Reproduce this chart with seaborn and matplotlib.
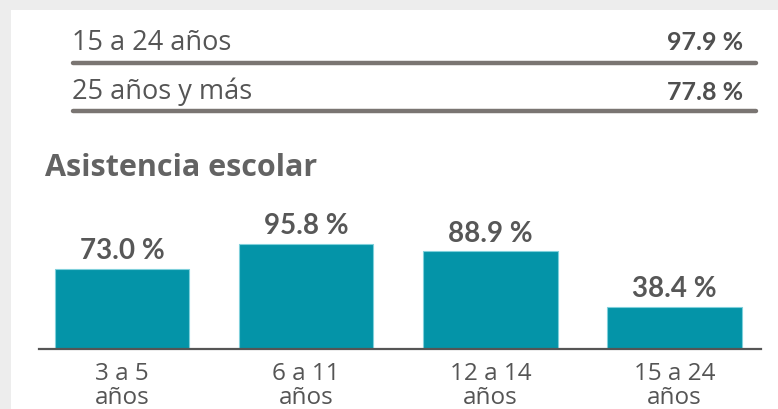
import matplotlib
matplotlib.use("Agg")
import matplotlib.pyplot as plt
from matplotlib.patches import Rectangle
from matplotlib.lines import Line2D
import seaborn as sns
import pandas as pd

# ---- data ----
top_labels = ["15 a 24 años", "25 años y más"]
top_values = [97.9, 77.8]

title = "Asistencia escolar"
bar_categories = ["3 a 5\naños", "6 a 11\naños", "12 a 14\naños", "15 a 24\naños"]
bar_values = [73.0, 95.8, 88.9, 38.4]

sns.set_theme(style="white")
plt.rcParams['font.family'] = ['Lato', 'DejaVu Sans']

W, H = 778, 410
fig = plt.figure(figsize=(W / 100, H / 100), dpi=100)
fig.patch.set_facecolor("white")

def fx(px):
    return px / W

def fy(py):
    return 1 - py / H

# light gray frame (top band + left strip)
fig.patches.append(Rectangle((0, fy(11)), 1, 11 / H, transform=fig.transFigure,
                             facecolor="#ededed", edgecolor="none", zorder=0))
fig.patches.append(Rectangle((0, 0), fx(11), 1, transform=fig.transFigure,
                             facecolor="#ededed", edgecolor="none", zorder=0))

text_gray = "#555555"
line_gray = "#7a7572"
light_font = ["Open Sans", "DejaVu Sans"]

# top rows
row_y = [43, 92]
line_y = [64, 112]
for lab, val, ty, ly in zip(top_labels, top_values, row_y, line_y):
    fig.text(fx(72), fy(ty), lab, fontsize=19.5, color=text_gray, ha="left", va="center",
             family=light_font)
    fig.text(fx(743), fy(ty), f"{val:.1f} %", fontsize=18, color="#4f4f4f", ha="right",
             va="center", fontweight="bold")
    fig.lines.append(Line2D([fx(73), fx(756)], [fy(ly), fy(ly)], transform=fig.transFigure,
                            color=line_gray, linewidth=3.2, solid_capstyle="round"))

# title
fig.text(fx(45), fy(168), title, fontsize=22, color="#636363", ha="left", va="center",
         fontweight="bold", family=light_font)

# bar chart axes
ax = fig.add_axes([fx(39), fy(350), fx(761) - fx(39), 110 / H])
df = pd.DataFrame({"cat": bar_categories, "val": bar_values})
sns.barplot(data=df, x="cat", y="val", ax=ax, color="#0494a8", width=0.73,
            edgecolor="#7fd0db", linewidth=0.8, saturation=1)
ax.set_xlim(-(122 - 39) / 184, 3 + (761 - 674.5) / 184)
ax.set_ylim(0, 100)
ax.set_xlabel("")
ax.set_ylabel("")
ax.set_yticks([])
for s in ["top", "left", "right"]:
    ax.spines[s].set_visible(False)
ax.spines["bottom"].set_color("#555555")
ax.spines["bottom"].set_linewidth(1.6)
ax.set_facecolor("none")
ax.tick_params(axis="x", length=0, pad=9, labelsize=17.5, labelcolor=text_gray)
for t in ax.get_xticklabels():
    t.set_family(light_font)
    t.set_linespacing(0.95)
for c in ax.containers:
    ax.bar_label(c, labels=[f"{v:.1f} %" for v in bar_values], padding=4,
                 fontsize=20, fontweight="bold", color="#575757")

fig.savefig("out.png", dpi=100)
